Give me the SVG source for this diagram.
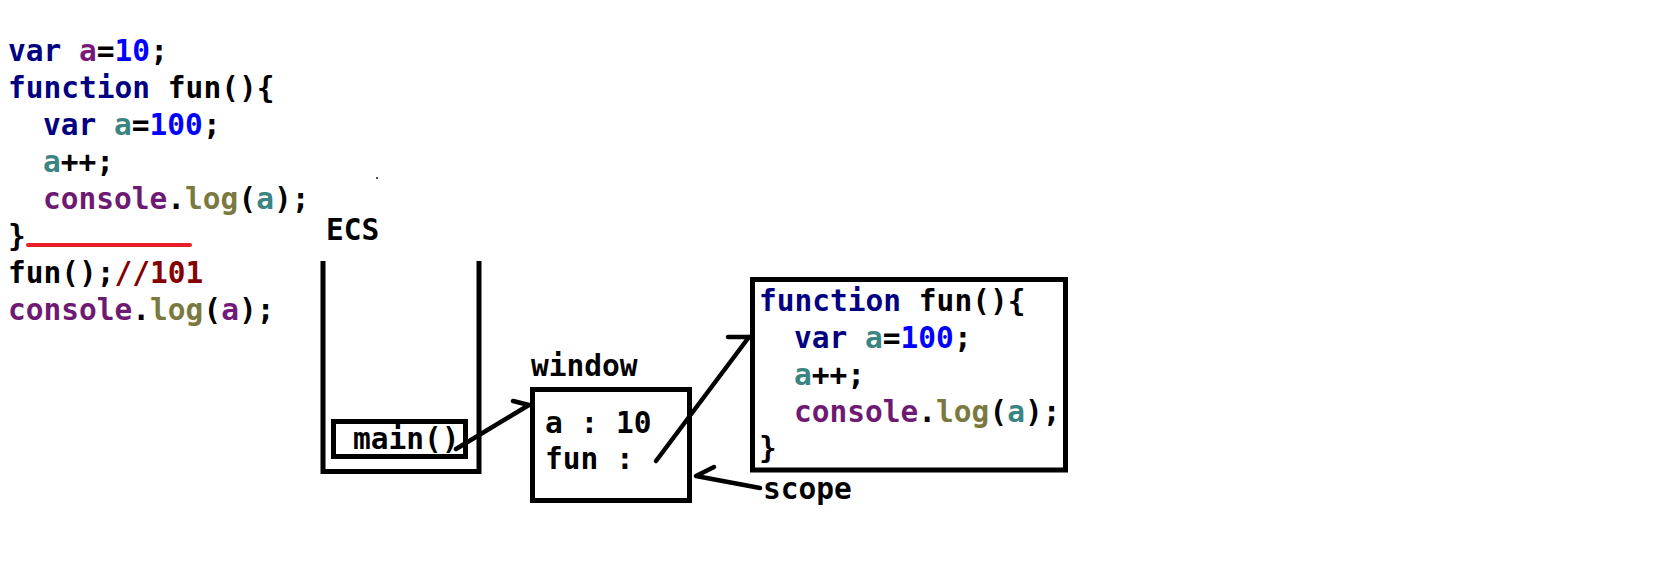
<svg xmlns="http://www.w3.org/2000/svg" width="1678" height="570" viewBox="0 0 1678 570">
<style>
text{font-family:"DejaVu Sans Mono","Liberation Mono",monospace;font-weight:bold;font-size:29.5px;fill:#000;white-space:pre}
.kw{fill:#000080}.va{fill:#741a78}.vl{fill:#3a8482}.num{fill:#0000ff}.fn{fill:#6e1a72}.lg{fill:#7a7a40}.cm{fill:#850000}
.box{fill:none;stroke:#000;stroke-width:5}
.con{fill:none;stroke:#000;stroke-width:4.5;stroke-linecap:round;stroke-linejoin:round}
</style>
<rect width="1678" height="570" fill="#fff"/>
<g id="code">
<text x="8" y="61"><tspan class="kw">var</tspan> <tspan class="va">a</tspan>=<tspan class="num">10</tspan>;</text>
<text x="8" y="98"><tspan class="kw">function</tspan> fun(){</text>
<text x="43" y="135"><tspan class="kw">var</tspan> <tspan class="vl">a</tspan>=<tspan class="num">100</tspan>;</text>
<text x="43" y="172"><tspan class="vl">a</tspan>++;</text>
<text x="43" y="209"><tspan class="fn">console</tspan>.<tspan class="lg">log</tspan>(<tspan class="vl">a</tspan>);</text>
<text x="8" y="246">}</text>
<text x="8" y="283">fun();<tspan class="cm">//101</tspan></text>
<text x="8" y="320"><tspan class="fn">console</tspan>.<tspan class="lg">log</tspan>(<tspan class="va">a</tspan>);</text>
<line x1="28" y1="245" x2="190" y2="245" stroke="#e8202a" stroke-width="4" stroke-linecap="round"/>
<rect x="376" y="177" width="2" height="2" fill="#555"/>
</g>
<g id="ecs">
<text x="326" y="240">ECS</text>
<path class="box" d="M323,261 V471.5 H479 V261"/>
</g>
<g id="main">
<rect class="box" x="333.5" y="421.5" width="132" height="35"/>
<text x="353" y="449">main()</text>
</g>
<g id="window">
<text x="531" y="376">window</text>
<rect class="box" x="532.5" y="389.5" width="157" height="111"/>
<text x="545" y="433">a : 10</text>
<text x="545" y="469">fun :</text>
</g>
<g id="function">
<rect class="box" x="752.5" y="279.5" width="313" height="190.5" stroke-width="6"/>
<text x="759" y="311"><tspan class="kw">function</tspan> fun(){</text>
<text x="794" y="348"><tspan class="kw">var</tspan> <tspan class="vl">a</tspan>=<tspan class="num">100</tspan>;</text>
<text x="794" y="385"><tspan class="vl">a</tspan>++;</text>
<text x="794" y="422"><tspan class="fn">console</tspan>.<tspan class="lg">log</tspan>(<tspan class="vl">a</tspan>);</text>
<text x="759" y="458">}</text>
</g>
<g id="scope">
<text x="763" y="499">scope</text>
</g>
<g id="connectors">
<path class="con" d="M456,449 L529,405 M529,405 L513,401"/>
<path class="con" d="M656,461 L749,337 M749,337 L728,337"/>
<path class="con" d="M760,488 L696,476 M696,476 L714,467"/>
</g>
</svg>
